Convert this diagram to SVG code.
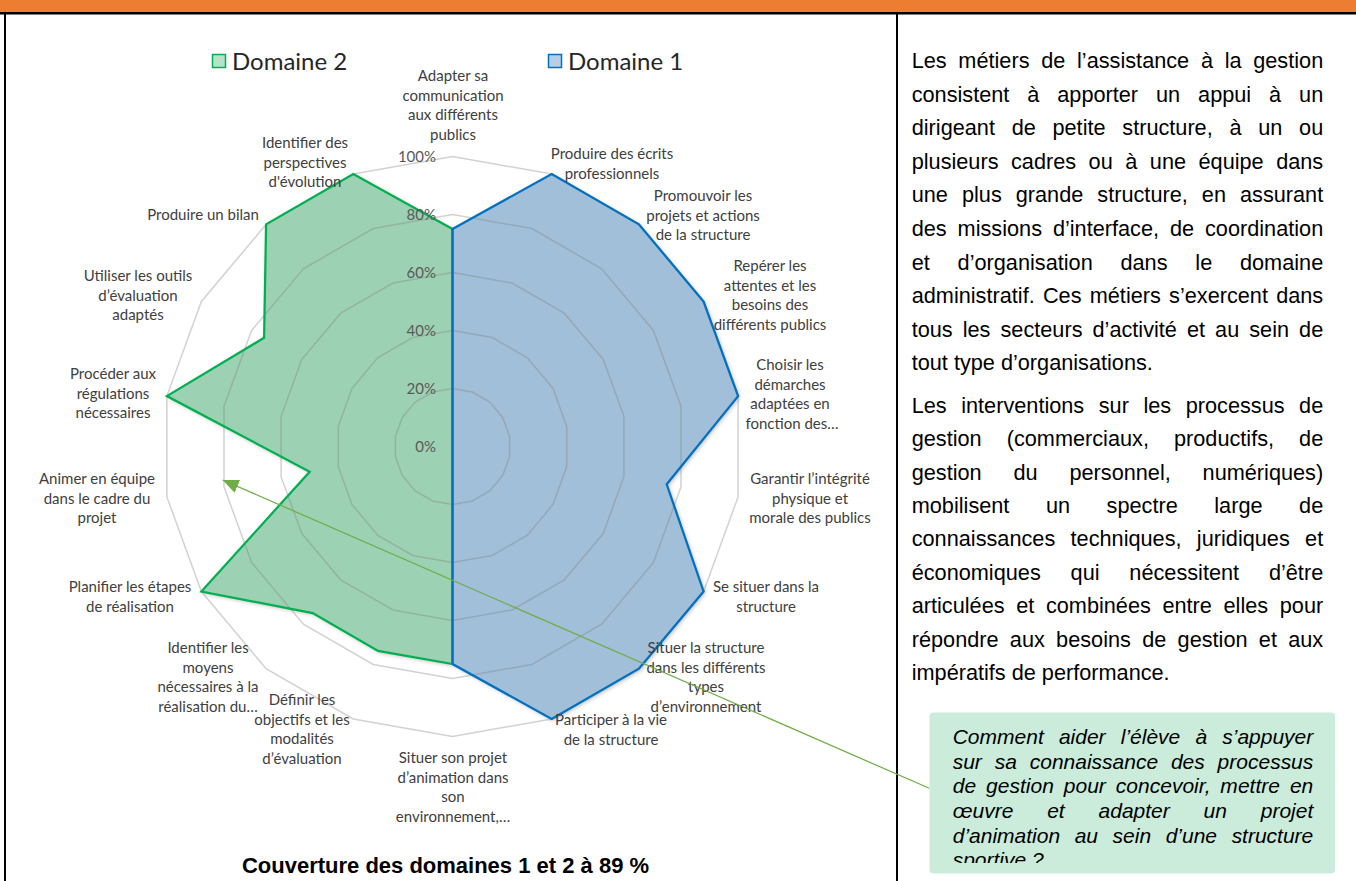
<svg xmlns="http://www.w3.org/2000/svg" width="1356" height="881" viewBox="0 0 1356 881">
<defs>
<style>
.lbl{font-family:Lato,"Open Sans",sans-serif;font-size:15px;fill:#404040;text-anchor:middle}
.pct{font-family:Lato,"Open Sans",sans-serif;font-size:15px;fill:#595959;text-anchor:end}
.leg{font-family:Lato,"Open Sans",sans-serif;font-size:24px;fill:#262626}
.body{font-family:"Liberation Sans",Arial,sans-serif;font-size:21.7px;fill:#000}
.q{font-family:"Liberation Sans",Arial,sans-serif;font-size:21px;font-style:italic;fill:#000}
.ttl{font-family:"Liberation Sans",Arial,sans-serif;font-size:22px;font-weight:bold;fill:#000;text-anchor:middle}
.ring{fill:none;stroke:#7f7f7f;stroke-opacity:.35;stroke-width:1.5}
.fill2{fill:#9dd1b4}
.fill1{fill:#a1bfd9}
.edge2{fill:none;stroke:#00B050;stroke-width:2.25;stroke-linejoin:miter}
.edge1{fill:none;stroke:#0070C0;stroke-width:2.25;stroke-linejoin:miter}
</style>
<filter id="sh" x="-10%" y="-10%" width="130%" height="130%">
<feDropShadow dx="1.5" dy="1.5" stdDeviation="2" flood-color="#000" flood-opacity="0.3"/>
</filter>
<marker id="arr" markerUnits="userSpaceOnUse" markerWidth="18" markerHeight="18" viewBox="0 -9 18 18" refX="16" refY="0" orient="auto">
<path d="M0,-7 L16,0 L0,7 z" fill="#70AD47"/>
</marker>
<clipPath id="qclip"><rect x="930" y="713" width="405" height="150"/></clipPath>
</defs>

<rect x="0" y="0" width="1356" height="881" fill="#fff"/>

<g id="frame">
<rect x="0" y="0" width="1356" height="12" fill="#ED7D31"/>
<rect x="0" y="12" width="1356" height="2.5" fill="#000"/>
<rect x="4" y="12" width="2" height="869" fill="#000"/>
<rect x="896" y="12" width="2" height="869" fill="#000"/>
</g>

<g id="legend">
<rect x="212.5" y="54.5" width="13" height="13" fill="#b6e2c8" stroke="#00B050" stroke-width="1.5"/>
<text class="leg" x="232" y="70">Domaine 2</text>
<rect x="548.5" y="54.5" width="13" height="13" fill="#b7cfe6" stroke="#0070C0" stroke-width="1.5"/>
<text class="leg" x="568" y="70">Domaine 1</text>
</g>

<g id="series-fills" filter="url(#sh)">
<polygon class="fill2" points="452.5,229 353.3,174 266.1,224.4 264.1,337.75 166.9,396.1 309.7,471.7 201.4,591.5 312.7,613.1 378.1,650.9 452.5,664"/>
<polygon class="fill1" points="452.5,229 551.7,174 638.9,224.4 703.6,301.5 738.1,396.1 666.7,484.3 703.6,591.5 638.9,668.7 551.7,719 452.5,664"/>
</g>

<g id="grid">
<polygon class="ring" points="452.5,388.5 472.3,392.0 489.8,402.1 502.7,417.5 509.6,436.4 509.6,456.6 502.7,475.5 489.8,490.9 472.3,501.0 452.5,504.5 432.7,501.0 415.2,490.9 402.3,475.5 395.4,456.6 395.4,436.4 402.3,417.5 415.2,402.1 432.7,392.0"/>
<polygon class="ring" points="452.5,330.5 492.2,337.5 527.1,357.6 553.0,388.5 566.7,426.4 566.7,466.6 553.0,504.5 527.1,535.4 492.2,555.5 452.5,562.5 412.8,555.5 377.9,535.4 352.0,504.5 338.3,466.6 338.3,426.4 352.0,388.5 377.9,357.6 412.8,337.5"/>
<polygon class="ring" points="452.5,272.5 512.0,283.0 564.3,313.2 603.2,359.5 623.9,416.3 623.9,476.7 603.2,533.5 564.3,579.8 512.0,610.0 452.5,620.5 393.0,610.0 340.7,579.8 301.8,533.5 281.1,476.7 281.1,416.3 301.8,359.5 340.7,313.2 393.0,283.0"/>
<polygon class="ring" points="452.5,214.5 531.9,228.5 601.6,268.8 653.4,330.5 681.0,406.2 681.0,486.8 653.4,562.5 601.6,624.2 531.9,664.5 452.5,678.5 373.2,664.5 303.4,624.2 251.6,562.5 224.0,486.8 224.0,406.2 251.6,330.5 303.4,268.8 373.2,228.5"/>
<polygon class="ring" points="452.5,156.5 551.7,174.0 638.9,224.4 703.6,301.5 738.1,396.1 738.1,496.9 703.6,591.5 638.9,668.7 551.7,719.0 452.5,736.5 353.3,719.0 266.1,668.7 201.4,591.5 166.9,496.9 166.9,396.1 201.4,301.5 266.1,224.4 353.3,174.0"/>
</g>

<g id="series-edges">
<polygon class="edge2" points="452.5,229 353.3,174 266.1,224.4 264.1,337.75 166.9,396.1 309.7,471.7 201.4,591.5 312.7,613.1 378.1,650.9 452.5,664"/>
<polygon class="edge1" points="452.5,229 551.7,174 638.9,224.4 703.6,301.5 738.1,396.1 666.7,484.3 703.6,591.5 638.9,668.7 551.7,719 452.5,664"/>
</g>

<g id="axis-values">
<text class="pct" x="436" y="162">100%</text>
<text class="pct" x="436" y="220">80%</text>
<text class="pct" x="436" y="278">60%</text>
<text class="pct" x="436" y="336">40%</text>
<text class="pct" x="436" y="394">20%</text>
<text class="pct" x="436" y="452">0%</text>
</g>

<g id="axis-labels">
<g id="lbl-adapter"><text class="lbl" x="453" y="81">Adapter sa</text><text class="lbl" x="453" y="100.5">communication</text><text class="lbl" x="453" y="120">aux différents</text><text class="lbl" x="453" y="139.5">publics</text></g>
<g id="lbl-ecrits"><text class="lbl" x="612" y="159">Produire des écrits</text><text class="lbl" x="612" y="178.5">professionnels</text></g>
<g id="lbl-promouvoir"><text class="lbl" x="703" y="201">Promouvoir les</text><text class="lbl" x="703" y="220.5">projets et actions</text><text class="lbl" x="703" y="240">de la structure</text></g>
<g id="lbl-reperer"><text class="lbl" x="770" y="271">Repérer les</text><text class="lbl" x="770" y="290.5">attentes et les</text><text class="lbl" x="770" y="310">besoins des</text><text class="lbl" x="770" y="329.5">différents publics</text></g>
<g id="lbl-choisir"><text class="lbl" x="790" y="370">Choisir les</text><text class="lbl" x="790" y="389.5">démarches</text><text class="lbl" x="790" y="409">adaptées en</text><text class="lbl" x="792" y="428.5">fonction des…</text></g>
<g id="lbl-garantir"><text class="lbl" x="810" y="484">Garantir l’intégrité</text><text class="lbl" x="810" y="503.5">physique et</text><text class="lbl" x="810" y="523">morale des publics</text></g>
<g id="lbl-sesituer"><text class="lbl" x="766" y="592">Se situer dans la</text><text class="lbl" x="766" y="611.5">structure</text></g>
<g id="lbl-situerstructure"><text class="lbl" x="706" y="653">Situer la structure</text><text class="lbl" x="706" y="672.5">dans les différents</text><text class="lbl" x="706" y="692">types</text><text class="lbl" x="706" y="711.5">d’environnement</text></g>
<g id="lbl-participer"><text class="lbl" x="611" y="725">Participer à la vie</text><text class="lbl" x="611" y="744.5">de la structure</text></g>
<g id="lbl-situerprojet"><text class="lbl" x="453" y="763">Situer son projet</text><text class="lbl" x="453" y="782.5">d’animation dans</text><text class="lbl" x="453" y="802">son</text><text class="lbl" x="453" y="821.5">environnement,…</text></g>
<g id="lbl-definir"><text class="lbl" x="302" y="705">Définir les</text><text class="lbl" x="302" y="724.5">objectifs et les</text><text class="lbl" x="302" y="744">modalités</text><text class="lbl" x="302" y="763.5">d’évaluation</text></g>
<g id="lbl-moyens"><text class="lbl" x="208" y="653">Identifier les</text><text class="lbl" x="208" y="672.5">moyens</text><text class="lbl" x="208" y="692">nécessaires à la</text><text class="lbl" x="208" y="711.5">réalisation du…</text></g>
<g id="lbl-planifier"><text class="lbl" x="130" y="592">Planifier les étapes</text><text class="lbl" x="130" y="611.5">de réalisation</text></g>
<g id="lbl-animer"><text class="lbl" x="97" y="484">Animer en équipe</text><text class="lbl" x="97" y="503.5">dans le cadre du</text><text class="lbl" x="97" y="523">projet</text></g>
<g id="lbl-proceder"><text class="lbl" x="113" y="379">Procéder aux</text><text class="lbl" x="113" y="398.5">régulations</text><text class="lbl" x="113" y="418">nécessaires</text></g>
<g id="lbl-outils"><text class="lbl" x="138" y="281">Utiliser les outils</text><text class="lbl" x="138" y="300.5">d’évaluation</text><text class="lbl" x="138" y="320">adaptés</text></g>
<g id="lbl-bilan"><text class="lbl" x="203" y="220">Produire un bilan</text></g>
<g id="lbl-perspectives"><text class="lbl" x="305" y="148">Identifier des</text><text class="lbl" x="305" y="167.5">perspectives</text><text class="lbl" x="305" y="187">d'évolution</text></g>
</g>

<g id="chart-title">
<text class="ttl" x="445.5" y="873">Couverture des domaines 1 et 2 à 89 %</text>
</g>

<g id="description">
<text class="body" x="911.7" y="68" textLength="411.5" lengthAdjust="spacing" word-spacing="5.67">Les métiers de l’assistance à la gestion</text>
<text class="body" x="911.7" y="101.6" textLength="411.5" lengthAdjust="spacing" word-spacing="11.9">consistent à apporter un appui à un</text>
<text class="body" x="911.7" y="135.2" textLength="411.5" lengthAdjust="spacing" word-spacing="10.7">dirigeant de petite structure, à un ou</text>
<text class="body" x="911.7" y="168.8" textLength="411.5" lengthAdjust="spacing" word-spacing="6.5">plusieurs cadres ou à une équipe dans</text>
<text class="body" x="911.7" y="202.4" textLength="411.5" lengthAdjust="spacing" word-spacing="8">une plus grande structure, en assurant</text>
<text class="body" x="911.7" y="236" textLength="411.5" lengthAdjust="spacing" word-spacing="4.9">des missions d’interface, de coordination</text>
<text class="body" x="911.7" y="269.6" textLength="411.5" lengthAdjust="spacing" word-spacing="21.75">et d’organisation dans le domaine</text>
<text class="body" x="911.7" y="303.2" textLength="411.5" lengthAdjust="spacing" word-spacing="2.2">administratif. Ces métiers s’exercent dans</text>
<text class="body" x="911.7" y="336.8" textLength="411.5" lengthAdjust="spacing" word-spacing="4">tous les secteurs d’activité et au sein de</text>
<text class="body" x="911.7" y="370.4">tout type d’organisations.</text>

<text class="body" x="911.7" y="413" textLength="411.5" lengthAdjust="spacing" word-spacing="8.5">Les interventions sur les processus de</text>
<text class="body" x="911.7" y="446.4" textLength="411.5" lengthAdjust="spacing" word-spacing="19">gestion (commerciaux, productifs, de</text>
<text class="body" x="911.7" y="479.7" textLength="411.5" lengthAdjust="spacing" word-spacing="25.8">gestion du personnel, numériques)</text>
<text class="body" x="911.7" y="513" textLength="411.5" lengthAdjust="spacing" word-spacing="30.5">mobilisent un spectre large de</text>
<text class="body" x="911.7" y="546.4" textLength="411.5" lengthAdjust="spacing" word-spacing="9.3">connaissances techniques, juridiques et</text>
<text class="body" x="911.7" y="579.8" textLength="411.5" lengthAdjust="spacing" word-spacing="23.8">économiques qui nécessitent d’être</text>
<text class="body" x="911.7" y="613" textLength="411.5" lengthAdjust="spacing" word-spacing="5.6">articulées et combinées entre elles pour</text>
<text class="body" x="911.7" y="646.5" textLength="411.5" lengthAdjust="spacing" word-spacing="5.25">répondre aux besoins de gestion et aux</text>
<text class="body" x="911.7" y="680">impératifs de performance.</text>
</g>

<g id="connectors">
<line x1="929.3" y1="788.3" x2="222.7" y2="480" stroke="#70AD47" stroke-width="1.25" marker-end="url(#arr)"/>
</g>

<g id="question-box">
<rect x="929.5" y="712.5" width="405.5" height="161" rx="4" fill="#cbecda"/>
<g clip-path="url(#qclip)">
<text class="q" x="952.7" y="744" textLength="360.6" lengthAdjust="spacing" word-spacing="9.3">Comment aider l’élève à s’appuyer</text>
<text class="q" x="952.7" y="768.7" textLength="360.6" lengthAdjust="spacing" word-spacing="7">sur sa connaissance des processus</text>
<text class="q" x="952.7" y="793.4" textLength="360.6" lengthAdjust="spacing" word-spacing="4">de gestion pour concevoir, mettre en</text>
<text class="q" x="952.7" y="818" textLength="360.6" lengthAdjust="spacing" word-spacing="28">œuvre et adapter un projet</text>
<text class="q" x="952.7" y="842.7" textLength="360.6" lengthAdjust="spacing" word-spacing="8.75">d’animation au sein d’une structure</text>
<text class="q" x="952.7" y="867.4">sportive ?</text>
</g>
</g>
</svg>
